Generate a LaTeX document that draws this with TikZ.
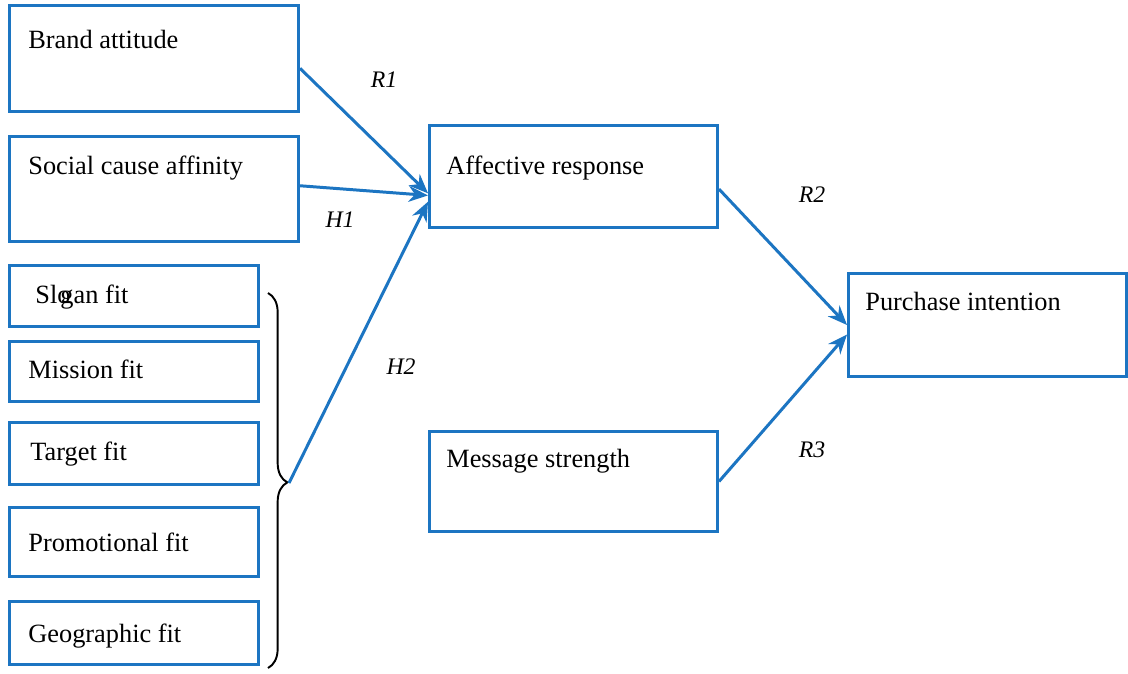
\documentclass[tikz,border=0pt]{standalone}
\usepackage{fontspec}
\setmainfont{Liberation Serif}
\usetikzlibrary{arrows.meta,calc,decorations.pathreplacing}
\definecolor{lineblue}{RGB}{28,117,194}
\begin{document}
\begin{tikzpicture}[x=0.02cm,y=-0.02cm,
  box/.style={draw=lineblue,line width=1.7pt,anchor=north west,inner sep=0pt},
  txt/.style={anchor=base west,inner sep=0pt,font=\fontsize{15}{17}\selectfont},
  lab/.style={inner sep=0pt,font=\fontsize{13.5}{15}\selectfont\itshape},
  conn/.style={draw=lineblue,line width=1.7pt,-{Stealth[length=11pt,width=9pt]}},
  bracest/.style={draw=black,line width=1.1pt,decorate,decoration={brace,amplitude=11pt,aspect=0.505}}]
\useasboundingbox (0,0) rectangle (1128,673);
\fill[white] (0,0) rectangle (1128,673);
% boxes
\node[box,minimum width=289*0.02cm,minimum height=106*0.02cm] (ba) at (8,4) {};
\node[box,minimum width=289*0.02cm,minimum height=105*0.02cm] (sc) at (8,135) {};
\node[box,minimum width=249*0.02cm,minimum height=61*0.02cm] (sf) at (8,264) {};
\node[box,minimum width=249*0.02cm,minimum height=60*0.02cm] (mf) at (8,340) {};
\node[box,minimum width=249*0.02cm,minimum height=62*0.02cm] (tf) at (8,421) {};
\node[box,minimum width=249*0.02cm,minimum height=69*0.02cm] (pf) at (8,506) {};
\node[box,minimum width=249*0.02cm,minimum height=63*0.02cm] (gf) at (8,600) {};
\node[box,minimum width=288*0.02cm,minimum height=102*0.02cm] (ar) at (428,124) {};
\node[box,minimum width=278*0.02cm,minimum height=103*0.02cm] (pi) at (847,272) {};
\node[box,minimum width=288*0.02cm,minimum height=100*0.02cm] (ms) at (428,430) {};
% texts
\node[txt] (tba) at (28,48) {Brand attitude};
\node[txt] (tsc) at (28,174) {Social cause affinity};
\node[txt] (tsf) at (35,303) {Sl\makebox[0pt][l]{o}\kern0.12em gan fit};
\node[txt] (tmf) at (28,378) {Mission fit};
\node[txt] (ttf) at (30,460) {Target fit};
\node[txt] (tpf) at (28,551) {Promotional fit};
\node[txt] (tgf) at (28,642) {Geographic fit};
\node[txt] (tar) at (446,174) {Affective response};
\node[txt] (tpi) at (865,310) {Purchase intention};
\node[txt] (tms) at (446,467) {Message strength};
% labels
\node[lab] (r1) at (384,80) {R1};
\node[lab] (h1) at (340,220) {H1};
\node[lab] (h2) at (401,367) {H2};
\node[lab] (r2) at (812,195) {R2};
\node[lab] (r3) at (812,450) {R3};
% brace
\coordinate (btop) at (268,293);
\coordinate (bbot) at (268,668);
\draw[bracest] (btop) -- (bbot);
\coordinate (btip) at (289,483);
% connectors
\draw[conn] ($(ba.north east)!0.59!(ba.south east)$) -- ($(ar.north west)!0.66!(ar.south west)$);
\draw[conn] ($(sc.north east)!0.47!(sc.south east)$) -- ($(ar.north west)!0.68!(ar.south west)$);
\draw[conn] (btip) -- ($(ar.north west)!0.74!(ar.south west)$);
\draw[conn] ($(ar.north east)!0.62!(ar.south east)$) -- ($(pi.north west)!0.5!(pi.south west)$);
\draw[conn] ($(ms.north east)!0.5!(ms.south east)$) -- ($(pi.north west)!0.59!(pi.south west)$);
\end{tikzpicture}
\end{document}
